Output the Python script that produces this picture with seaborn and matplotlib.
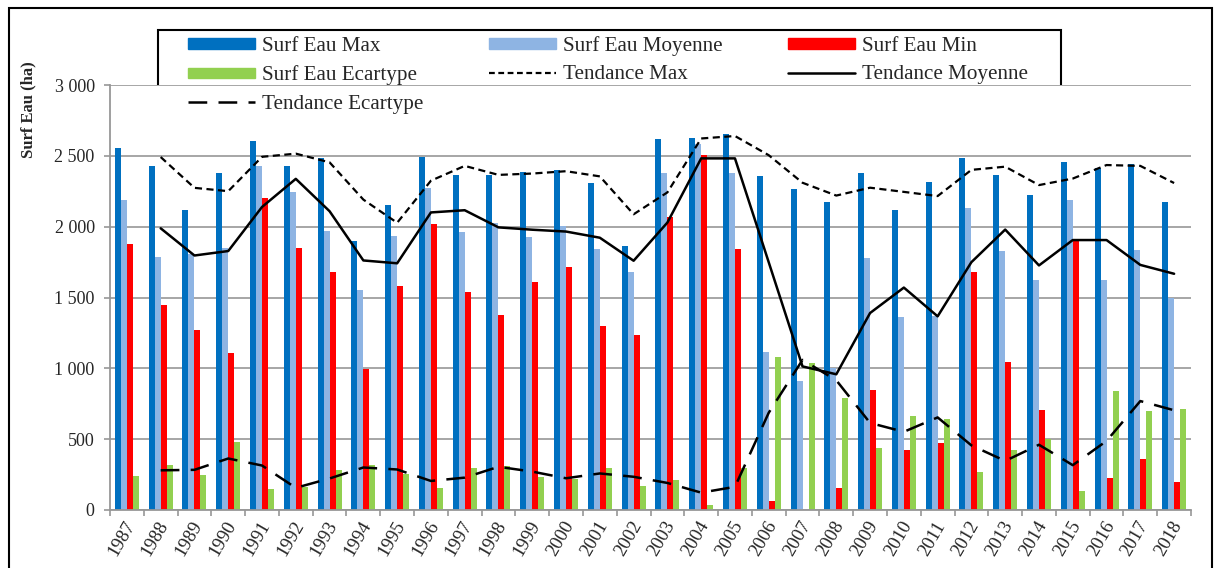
import numpy as np
import pandas as pd
import matplotlib
matplotlib.use("Agg")
import matplotlib.pyplot as plt
from matplotlib.patches import Patch, Rectangle
from matplotlib.lines import Line2D
from matplotlib.ticker import FuncFormatter, FixedLocator
import matplotlib.transforms as mtransforms
import seaborn as sns

# donnees (ha)
annees = [str(a) for a in range(1987, 2019)]
surf_max = [2555, 2428, 2120, 2381, 2605, 2426, 2482, 1900, 2155, 2494, 2364, 2367, 2383, 2400, 2310, 1865,
            2619, 2626, 2654, 2355, 2265, 2174, 2376, 2115, 2317, 2485, 2362, 2225, 2454, 2416, 2442, 2174]
surf_moy = [2190, 1787, 1806, 1850, 2428, 2247, 1971, 1552, 1931, 2270, 1962, 2028, 1929, 2002, 1842, 1677,
            2381, 2583, 2381, 1116, 911, 1005, 1776, 1364, 1370, 2129, 1830, 1623, 2188, 1623, 1837, 1498]
surf_min = [1879, 1448, 1269, 1109, 2202, 1851, 1679, 994, 1583, 2018, 1540, 1375, 1608, 1712, 1298, 1234,
            2070, 2508, 1842, 61, 0, 155, 848, 424, 476, 1677, 1046, 707, 1896, 226, 360, 198]
surf_ecart = [240, 320, 247, 480, 148, 165, 280, 320, 252, 158, 299, 311, 231, 217, 299, 170,
              212, 33, 294, 1079, 1040, 791, 438, 666, 641, 271, 422, 499, 134, 841, 697, 711]

series = ["Surf Eau Max", "Surf Eau Moyenne", "Surf Eau Min", "Surf Eau Ecartype"]
couleurs = ["#0070C0", "#8EB4E3", "#FF0000", "#92D050"]

sns.set_theme(style="white")
plt.rcParams["font.family"] = ["Liberation Serif", "DejaVu Serif"]

df = pd.DataFrame({"Annee": annees, "Surf Eau Max": surf_max, "Surf Eau Moyenne": surf_moy,
                   "Surf Eau Min": surf_min, "Surf Eau Ecartype": surf_ecart})
long = df.melt(id_vars="Annee", var_name="Serie", value_name="Valeur")

# moyenne mobile sur 2 periodes (tendance Excel)
tend_max = df["Surf Eau Max"].rolling(2).mean()
tend_moy = df["Surf Eau Moyenne"].rolling(2).mean()
tend_ecart = df["Surf Eau Ecartype"].rolling(2).mean()

W, H = 1215, 568
fig = plt.figure(figsize=(W / 100, H / 100), dpi=100)
ax = fig.add_axes([110 / W, 1 - 510 / H, (1191 - 110) / W, (510 - 85) / H])

sns.barplot(data=long, x="Annee", y="Valeur", hue="Serie", hue_order=series, palette=couleurs,
            width=0.71, saturation=1, errorbar=None, legend=False, linewidth=0, ax=ax, zorder=2)

idx = np.arange(len(annees))
grey = "#979797"
sns.lineplot(x=idx[1:], y=tend_max[1:].values, color="black", lw=1.6,
             linestyle=(0, (3.2, 2.0)), legend=False, ax=ax, zorder=3)
sns.lineplot(x=idx[1:], y=tend_moy[1:].values, color="black", lw=1.8, legend=False, ax=ax, zorder=3)
sns.lineplot(x=idx[1:], y=tend_ecart[1:].values, color="black", lw=1.8,
             linestyle=(0, (7.5, 4.5)), legend=False, ax=ax, zorder=3)

ax.set_ylim(0, 3000)
ax.set_xlim(-0.5, len(annees) - 0.5)
ax.set_yticks(range(0, 3001, 500))
ax.yaxis.set_major_formatter(FuncFormatter(lambda v, p: f"{v:,.0f}".replace(",", " ")))
ax.grid(axis="y", color=grey, lw=1.2, zorder=0)
ax.set_axisbelow(True)
for s in ["top", "right"]:
    ax.spines[s].set_visible(False)
for s in ["left", "bottom"]:
    ax.spines[s].set_color(grey)
    ax.spines[s].set_linewidth(1.3)

ax.set_xlabel("")
ax.set_ylabel("")
ax.tick_params(axis="y", which="major", length=4, width=1.2, color=grey, pad=7, labelsize=13, left=True)
ax.set_xticks(idx)
ax.set_xticklabels(annees, rotation=60, ha="right", va="center", rotation_mode="anchor", fontsize=13.5)
ax.tick_params(axis="x", which="major", length=0, pad=9)
offset = mtransforms.ScaledTranslation(4 / 100, 0, fig.dpi_scale_trans)
for lab in ax.get_xticklabels():
    lab.set_transform(lab.get_transform() + offset)
ax.xaxis.set_minor_locator(FixedLocator(np.arange(-0.5, len(annees), 1.0)))
ax.tick_params(axis="x", which="minor", length=4, width=1.2, color=grey, bottom=True)

fig.text(28 / W, 1 - 110 / H, "Surf Eau (ha)", rotation=90, fontsize=12, fontweight="bold",
         ha="center", va="center")

handles = [
    Patch(color=couleurs[0]), Patch(color=couleurs[3]),
    Line2D([], [], color="black", lw=1.8, linestyle=(0, (7.5, 4.5))),
    Patch(color=couleurs[1]), Line2D([], [], color="black", lw=1.6, linestyle=(0, (2.6, 1.6))),
    Patch(color=couleurs[2]), Line2D([], [], color="black", lw=1.8),
]
labels = ["Surf Eau Max", "Surf Eau Ecartype", "Tendance Ecartype", "Surf Eau Moyenne",
          "Tendance Max", "Surf Eau Min", "Tendance Moyenne"]
fig.legend(handles, labels, ncol=3, loc="upper left", bbox_to_anchor=(188 / W, 1 - 36 / H),
           frameon=False, borderpad=0, borderaxespad=0, fontsize=15.2, handlelength=3.18,
           handleheight=0.38, handletextpad=0.33, columnspacing=3.1, labelspacing=0.45)
fig.patches.append(Rectangle((158 / W, 1 - 116.5 / H), (1061 - 158) / W, (116.5 - 30) / H,
                             transform=fig.transFigure, fill=True, facecolor="white",
                             edgecolor="black", lw=1.5, zorder=-1))
fig.patches.append(Rectangle((9 / W, -0.05), (1212 - 9) / W, 1.05 - 8 / H,
                             transform=fig.transFigure, fill=False, edgecolor="black", lw=1.5))

fig.savefig("out.png", dpi=100)
